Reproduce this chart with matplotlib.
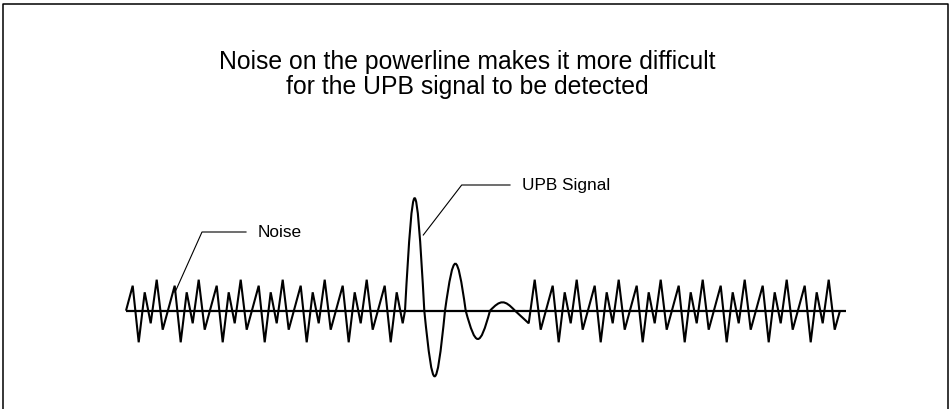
""" Noise vs UPB signal sketch """

import numpy as np
import matplotlib
matplotlib.use("Agg")
import matplotlib.pyplot as plt
from matplotlib.path import Path
from matplotlib.patches import PathPatch

plt.rcParams['font.family'] = ['Liberation Sans', 'DejaVu Sans']

# Texts
title_lines = ["Noise on the powerline makes it more difficult",
               "for the UPB signal to be detected"]
noise_label = "Noise"
signal_label = "UPB Signal"

# Noise zigzag: one cycle (x offset in cycle, level, up = positive)
noise_cycle_dx = [0, 6, 12, 18, 24, 30]
noise_cycle_level = [25, -31.6, 18.4, -12.6, 31, -19]
noise_period = 42
noise_first_peak = 132.7
noise_cycles = 17
noise_start = 126        # noise leaves the baseline here
noise_end = 840          # and comes back to it here
burst_gap = (402.7, 528.7)  # noise is hidden between these x values

# UPB burst: zero crossings and the peak of each lobe between them
signal_zero_x = [405, 424.3, 445, 465.7, 490, 515]
signal_peak = [112.5, -65.6, 47, -28.3, 8.4]

# Baseline
axis_x = [126, 846]


def main():
    """ Main function """
    fig = plt.figure(figsize=(9.53, 4.10), dpi=100)
    ax = fig.add_axes([0, 0, 1, 1])
    ax.set_xlim(0, 953)
    ax.set_ylim(-98.3, 311.7)
    ax.axis("off")

    # frame round the drawing
    ax.plot([3.5, 3.5, 948, 948], [-120, 307.2, 307.2, -120], color="black", lw=1.1)

    # all noise vertices
    nx = (noise_first_peak + np.arange(noise_cycles)[:, None] * noise_period
          + np.array(noise_cycle_dx)[None, :]).ravel()
    ny = np.tile(noise_cycle_level, noise_cycles)
    left = nx <= burst_gap[0] + 0.01
    right = (nx >= burst_gap[1] - 0.01)

    verts = [(noise_start, 0)]
    codes = [Path.MOVETO]
    for x, y in zip(nx[left], ny[left]):
        verts.append((x, y))
        codes.append(Path.LINETO)

    # burst lobes as cubic curves
    verts.append((signal_zero_x[0], 0))
    codes.append(Path.LINETO)
    for i, amp in enumerate(signal_peak):
        x0, x1 = signal_zero_x[i], signal_zero_x[i + 1]
        w = x1 - x0
        h = amp * 4 / 3
        verts += [(x0 + 0.424 * w, h), (x1 - 0.424 * w, h), (x1, 0)]
        codes += [Path.CURVE4] * 3

    for x, y in zip(nx[right], ny[right]):
        verts.append((x, y))
        codes.append(Path.LINETO)
    verts.append((noise_end, 0))
    codes.append(Path.LINETO)

    ax.add_patch(PathPatch(Path(verts, codes), fill=False, edgecolor="black",
                           lw=1.5, joinstyle="miter", capstyle="butt"))

    # baseline
    ax.plot(axis_x, [0, 0], color="black", lw=1.6, solid_capstyle="butt")

    # leaders and labels
    ax.plot([175, 202, 246], [18.4, 78.7, 78.7], color="black", lw=0.8)
    ax.text(258, 78.7, noise_label, fontsize=12.4, ha="left", va="center")
    ax.plot([423.3, 461.7, 510], [75.7, 125.7, 125.7], color="black", lw=0.8)
    ax.text(521.7, 125.7, signal_label, fontsize=12.4, ha="left", va="center")

    # title
    ax.text(467, 311.7 - 62, title_lines[0], fontsize=17.8, ha="center", va="center")
    ax.text(467, 311.7 - 87, title_lines[1], fontsize=17.8, ha="center", va="center")

    fig.savefig("out.png", dpi=100)


if __name__ == "__main__":
    main()
